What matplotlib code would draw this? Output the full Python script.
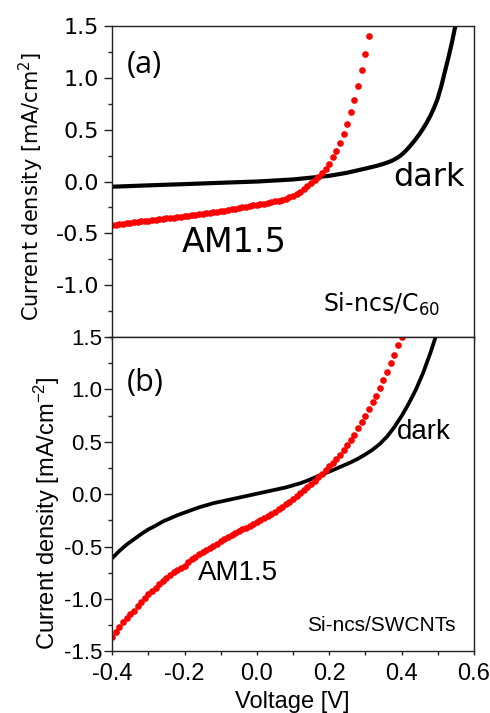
import matplotlib
matplotlib.use("Agg")
import matplotlib.pyplot as plt
from matplotlib.ticker import MultipleLocator

plt.rcParams['mathtext.fontset'] = 'custom'
plt.rcParams['mathtext.rm'] = 'Liberation Sans'
plt.rcParams['mathtext.default'] = 'regular'
plt.rcParams['axes.unicode_minus'] = False

# ---- panel (a): Si-ncs/C60 ----
v_dark_a = [-0.40, -0.30, -0.20, -0.10, 0.00, 0.10, 0.20, 0.25, 0.30, 0.33, 0.35,
            0.37, 0.38, 0.39, 0.40, 0.41, 0.42, 0.43, 0.44, 0.45, 0.46, 0.47,
            0.48, 0.49, 0.50, 0.51, 0.52, 0.53, 0.54, 0.55, 0.56]
j_dark_a = [-0.050, -0.037, -0.025, -0.012, 0.000, 0.020, 0.055, 0.085, 0.125, 0.150, 0.170,
            0.195, 0.212, 0.232, 0.258, 0.290, 0.327, 0.368, 0.412, 0.460, 0.512, 0.570,
            0.635, 0.710, 0.800, 0.920, 1.060, 1.200, 1.350, 1.520, 1.700]

v_light_a = [-0.40, -0.39, -0.38, -0.37, -0.36, -0.35, -0.34, -0.33, -0.32, -0.31,
             -0.30, -0.29, -0.28, -0.27, -0.26, -0.25, -0.24, -0.23, -0.22, -0.21,
             -0.20, -0.19, -0.18, -0.17, -0.16, -0.15, -0.14, -0.13, -0.12, -0.11,
             -0.10, -0.09, -0.08, -0.07, -0.06, -0.05, -0.04, -0.03, -0.02, -0.01,
             0.00, 0.01, 0.02, 0.03, 0.04, 0.05, 0.06, 0.07, 0.08, 0.09,
             0.10, 0.11, 0.12, 0.13, 0.14, 0.15, 0.16, 0.17, 0.18, 0.19,
             0.20, 0.21, 0.22, 0.23, 0.24, 0.25, 0.26, 0.27, 0.28, 0.29,
             0.30, 0.31]
j_light_a = [-0.423, -0.418, -0.413, -0.408, -0.403, -0.398, -0.393, -0.389, -0.385, -0.380,
             -0.376, -0.372, -0.368, -0.364, -0.360, -0.356, -0.352, -0.347, -0.343, -0.339,
             -0.335, -0.331, -0.327, -0.322, -0.318, -0.313, -0.308, -0.302, -0.297, -0.291,
             -0.286, -0.280, -0.275, -0.268, -0.262, -0.256, -0.250, -0.243, -0.237, -0.231,
             -0.225, -0.219, -0.213, -0.206, -0.199, -0.191, -0.183, -0.174, -0.164, -0.151,
             -0.136, -0.118, -0.097, -0.073, -0.046, -0.016, 0.016, 0.048, 0.083, 0.120,
             0.171, 0.232, 0.293, 0.370, 0.460, 0.557, 0.670, 0.789, 0.924, 1.071,
             1.226, 1.400]

# ---- panel (b): Si-ncs/SWCNTs ----
v_dark_b = [-0.40, -0.38, -0.36, -0.34, -0.32, -0.30, -0.28, -0.26, -0.24, -0.22,
            -0.20, -0.18, -0.16, -0.14, -0.12, -0.10, -0.08, -0.06, -0.04, -0.02,
            0.00, 0.02, 0.04, 0.06, 0.08, 0.10, 0.12, 0.14, 0.16, 0.18,
            0.20, 0.22, 0.24, 0.26, 0.28, 0.30, 0.32, 0.34, 0.36, 0.38,
            0.40, 0.42, 0.44, 0.46, 0.48, 0.50]
j_dark_b = [-0.610, -0.540, -0.480, -0.430, -0.380, -0.335, -0.300, -0.260, -0.230, -0.200,
            -0.175, -0.150, -0.125, -0.105, -0.085, -0.070, -0.055, -0.040, -0.025, -0.010,
            0.005, 0.020, 0.035, 0.050, 0.065, 0.085, 0.105, 0.130, 0.160, 0.190,
            0.215, 0.245, 0.275, 0.305, 0.340, 0.380, 0.425, 0.480, 0.550, 0.640,
            0.745, 0.865, 1.000, 1.160, 1.350, 1.560]

v_light_b = [-0.40, -0.39, -0.38, -0.37, -0.36, -0.35, -0.34, -0.33, -0.32, -0.31,
             -0.30, -0.29, -0.28, -0.27, -0.26, -0.25, -0.24, -0.23, -0.22, -0.21,
             -0.20, -0.19, -0.18, -0.17, -0.16, -0.15, -0.14, -0.13, -0.12, -0.11,
             -0.10, -0.09, -0.08, -0.07, -0.06, -0.05, -0.04, -0.03, -0.02, -0.01,
             0.00, 0.01, 0.02, 0.03, 0.04, 0.05, 0.06, 0.07, 0.08, 0.09,
             0.10, 0.11, 0.12, 0.13, 0.14, 0.15, 0.16, 0.17, 0.18, 0.19,
             0.20, 0.21, 0.22, 0.23, 0.24, 0.25, 0.26, 0.27, 0.28, 0.29,
             0.30, 0.31, 0.32, 0.33, 0.34, 0.35, 0.36, 0.37, 0.38, 0.39,
             0.40]
j_light_b = [-1.36, -1.31, -1.27, -1.22, -1.18, -1.14, -1.11, -1.07, -1.03, -0.99,
             -0.955, -0.92, -0.89, -0.86, -0.83, -0.80, -0.77, -0.745, -0.72, -0.70,
             -0.68, -0.65, -0.62, -0.595, -0.57, -0.55, -0.53, -0.51, -0.49, -0.47,
             -0.45, -0.43, -0.41, -0.39, -0.37, -0.35, -0.335, -0.32, -0.30, -0.28,
             -0.26, -0.245, -0.23, -0.21, -0.19, -0.17, -0.145, -0.12, -0.095, -0.07,
             -0.045, -0.02, 0.01, 0.04, 0.07, 0.10, 0.13, 0.16, 0.195, 0.23,
             0.265, 0.30, 0.335, 0.375, 0.42, 0.47, 0.52, 0.57, 0.63, 0.69,
             0.75, 0.81, 0.88, 0.94, 1.01, 1.09, 1.17, 1.25, 1.33, 1.42,
             1.50]

fig = plt.figure(figsize=(4.9, 7.13), dpi=100)
ax1 = fig.add_axes([0.229, 0.5273, 0.738, 0.4362])
ax2 = fig.add_axes([0.229, 0.0863, 0.738, 0.4410])

spine_col = '#222222'

for ax in (ax1, ax2):
    ax.set_xlim(-0.4, 0.6)
    ax.set_ylim(-1.5, 1.5)
    ax.xaxis.set_major_locator(MultipleLocator(0.2))
    ax.xaxis.set_minor_locator(MultipleLocator(0.1))
    ax.yaxis.set_major_locator(MultipleLocator(0.5))
    ax.yaxis.set_minor_locator(MultipleLocator(0.25))
    for s in ax.spines.values():
        s.set_linewidth(1.0)
        s.set_color(spine_col)
    ax.tick_params(which='both', direction='out', color=spine_col, width=1.0)
    ax.tick_params(axis='x', which='both', length=3)
    ax.tick_params(axis='y', which='major', length=5.5)
    ax.tick_params(axis='y', which='minor', length=3)

# panel (a)
ax1.plot(v_dark_a, j_dark_a, color='black', lw=3.0, solid_capstyle='round')
ax1.plot(v_light_a, j_light_a, 'o', color='#ff0000', ms=4.8, mew=0)
ax1.set_yticks([-1.0, -0.5, 0.0, 0.5, 1.0, 1.5])
ax1.tick_params(axis='x', labelbottom=False)
ax1.tick_params(axis='y', labelsize=16, pad=4, labelfontfamily='DejaVu Sans')

ax1.text(0.041, 0.875, '(a)', transform=ax1.transAxes, fontsize=22,
         family='Open Sans', ha='left', va='center')
ax1.text(0.776, 0.514, 'dark', transform=ax1.transAxes, fontsize=23,
         family='DejaVu Sans', ha='left', va='center')
ax1.text(0.193, 0.305, 'AM1.5', transform=ax1.transAxes, fontsize=24,
         family='DejaVu Sans', ha='left', va='center')
ax1.text(0.582, 0.081, 'Si-ncs/C$_{60}$', transform=ax1.transAxes, fontsize=17,
         family='DejaVu Sans', ha='left', va='baseline')

# panel (b)
ax2.plot(v_dark_b, j_dark_b, color='black', lw=2.7, solid_capstyle='round')
ax2.plot(v_light_b, j_light_b, 'o', color='#ff0000', ms=4.8, mew=0)
ax2.set_xticks([-0.4, -0.2, 0.0, 0.2, 0.4, 0.6])
ax2.set_xticklabels(['-0.4', '-0.2', '0.0', '0.2', '0.4', '0.6'])
ax2.set_yticks([-1.5, -1.0, -0.5, 0.0, 0.5, 1.0, 1.5])
ax2.set_yticklabels(['-1.5', '-1.0', '-0.5', '0.0', '0.5', '1.0', '1.5'])
ax2.tick_params(axis='x', labelsize=17, labelfontfamily='Liberation Sans', pad=5)
ax2.tick_params(axis='y', labelsize=16, labelfontfamily='Liberation Sans', pad=1.5)

ax2.text(0.041, 0.854, '(b)', transform=ax2.transAxes, fontsize=22,
         family='Open Sans', ha='left', va='center')
ax2.text(0.787, 0.698, 'dark', transform=ax2.transAxes, fontsize=20,
         family='Liberation Sans', ha='left', va='center')
ax2.text(0.237, 0.250, 'AM1.5', transform=ax2.transAxes, fontsize=20,
         family='Liberation Sans', ha='left', va='center')
ax2.text(0.538, 0.084, 'Si-ncs/SWCNTs', transform=ax2.transAxes, fontsize=15,
         family='Liberation Sans', ha='left', va='center')

fig.text(31 / 490, 1 - 186 / 713, 'Current density [mA/cm$^{2}$]', rotation=90,
         fontsize=15, family='DejaVu Sans', ha='center', va='center')
fig.text(47 / 490, 1 - 513 / 713, 'Current density [mA/cm$^{-2}$]', rotation=90,
         fontsize=17, family='Liberation Sans', ha='center', va='center')
fig.text(292 / 490, 1 - 702 / 713, 'Voltage [V]', fontsize=17,
         family='Liberation Sans', ha='center', va='center')

fig.savefig('out.png', dpi=100)
